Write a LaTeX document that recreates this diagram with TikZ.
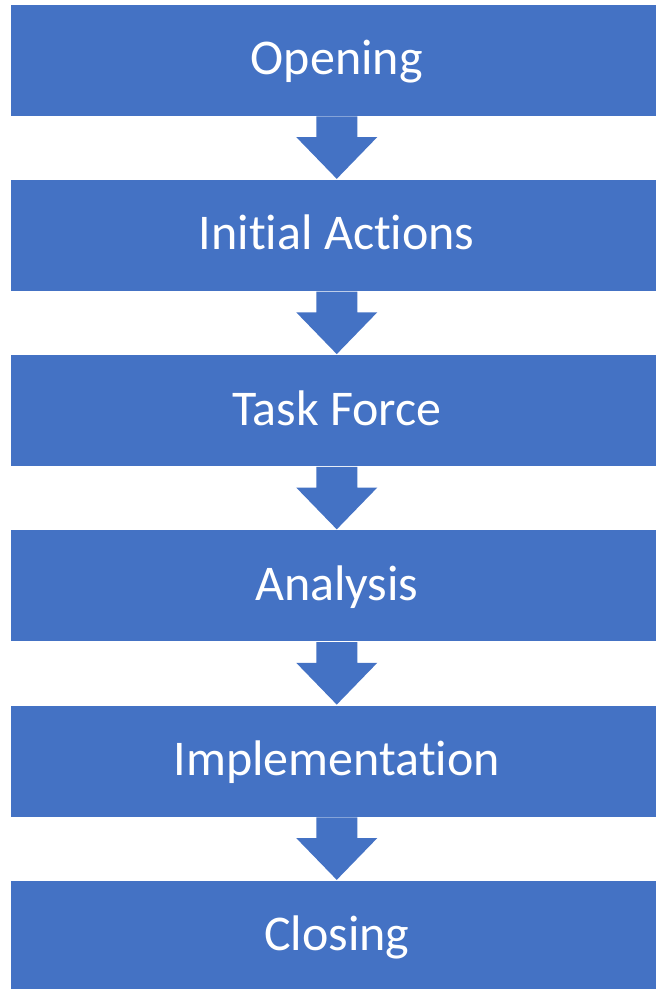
\documentclass[tikz,border=0pt]{standalone}
\usepackage{fontspec}
\setmainfont{Carlito}[Ligatures={NoCommon,NoDiscretionary}]
\usetikzlibrary{calc}
\definecolor{stepblue}{HTML}{4472C4}
\tikzset{
  stagebox/.style={rectangle, fill=stepblue, draw=white, line width=0.8pt,
    minimum width=652.5pt, minimum height=112pt, inner sep=0pt,
    text=white, font=\fontsize{50}{60}\selectfont,
    text height=29pt, text depth=0pt},
  flowarrow/.style={fill=stepblue, draw=none}
}
\newcommand{\downarrowshape}[2]{%
  \path[flowarrow]
    ($(#1.south)+(-20.5pt,0)$) -- ($(#1.south)+(20.5pt,0)$)
    -- ($(#1.south)+(20.5pt,-20.7pt)$) -- ($(#1.south)+(40.5pt,-20.7pt)$)
    -- (#2.north)
    -- ($(#1.south)+(-40.5pt,-20.7pt)$) -- ($(#1.south)+(-20.5pt,-20.7pt)$)
    -- cycle;}
\begin{document}
\begin{tikzpicture}[x=1pt,y=1pt]
  \useasboundingbox (0,0) rectangle (656,-989);
  \clip (0,0) rectangle (656,-989);
  \node[stagebox] (s1) at (336.75,-60)      {Opening};
  \node[stagebox] (s2) at (336.75,-235.25)  {Initial Actions};
  \node[stagebox] (s3) at (336.75,-410.5)   {Task Force};
  \node[stagebox] (s4) at (336.75,-585.75)  {Analysis};
  \node[stagebox] (s5) at (336.75,-761)     {Implementation};
  \node[stagebox] (s6) at (336.75,-936.25)  {Closing};
  \downarrowshape{s1}{s2}
  \downarrowshape{s2}{s3}
  \downarrowshape{s3}{s4}
  \downarrowshape{s4}{s5}
  \downarrowshape{s5}{s6}
\end{tikzpicture}
\end{document}
